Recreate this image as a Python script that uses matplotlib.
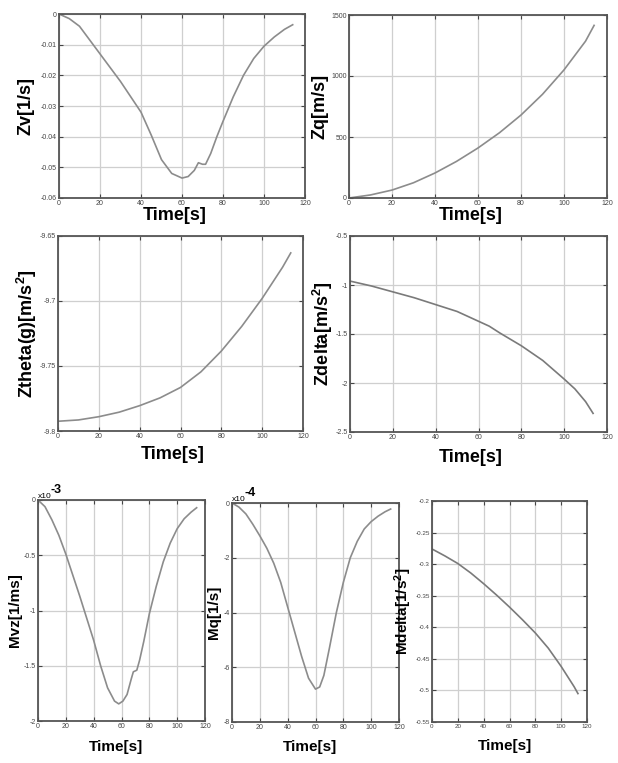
import math
import matplotlib
matplotlib.use('Agg')
import matplotlib.pyplot as plt
from matplotlib.ticker import FuncFormatter

# Schrift: Arial-artig und fett wie im MATLAB-Export
plt.rcParams['font.family'] = ['Liberation Sans', 'DejaVu Sans']
plt.rcParams['axes.unicode_minus'] = False
plt.rcParams['mathtext.fontset'] = 'custom'
plt.rcParams['mathtext.bf'] = 'Liberation Sans:bold'
plt.rcParams['mathtext.default'] = 'bf'

W, H = 618, 763

# Werte
zv_t = [0, 5, 10, 15, 20, 25, 30, 35, 40, 45, 50, 55, 60, 63, 66, 68, 70, 71.5, 74, 77, 80, 85, 90, 95, 100, 105, 110, 114]
zv = [0, -0.0015, -0.004, -0.0085, -0.013, -0.0175, -0.022, -0.027, -0.032, -0.0395, -0.0475, -0.052, -0.0535,
      -0.053, -0.051, -0.0485, -0.049, -0.049, -0.0455, -0.040, -0.035, -0.027, -0.020, -0.0145, -0.0105,
      -0.0075, -0.005, -0.0035]

zq_t = [0, 10, 20, 30, 40, 50, 60, 70, 80, 90, 100, 110, 114]
zq = [0, 25, 65, 125, 205, 300, 410, 535, 680, 850, 1050, 1285, 1415]

zth_t = [0, 10, 20, 30, 40, 50, 60, 70, 80, 90, 100, 110, 114]
zth = [-9.7925, -9.7915, -9.789, -9.7855, -9.7805, -9.7745, -9.7665, -9.7545, -9.7385, -9.7195, -9.698, -9.674, -9.663]

zd_t = [0, 10, 20, 30, 40, 50, 60, 65, 70, 80, 90, 100, 105, 110, 113.5]
zd = [-0.96, -1.01, -1.07, -1.13, -1.20, -1.27, -1.37, -1.42, -1.49, -1.62, -1.77, -1.96, -2.06, -2.19, -2.31]

mvz_t = [0, 5, 10, 15, 20, 25, 30, 35, 40, 45, 50, 55, 58, 61, 64, 67, 68.5, 71, 73, 76, 80, 85, 90, 95, 100,
         105, 110, 114]
mvz = [0, -0.06e-3, -0.18e-3, -0.32e-3, -0.49e-3, -0.68e-3, -0.87e-3, -1.07e-3, -1.27e-3, -1.50e-3, -1.70e-3,
       -1.82e-3, -1.845e-3, -1.82e-3, -1.76e-3, -1.62e-3, -1.555e-3, -1.54e-3, -1.45e-3, -1.28e-3, -1.03e-3,
       -0.78e-3, -0.56e-3, -0.39e-3, -0.26e-3, -0.17e-3, -0.11e-3, -0.07e-3]

mq_t = [0, 5, 10, 15, 20, 25, 30, 35, 40, 45, 50, 55, 60, 63, 66, 70, 75, 80, 85, 90, 95, 100, 105, 110, 114]
mq = [0, -0.15e-4, -0.40e-4, -0.78e-4, -1.2e-4, -1.65e-4, -2.2e-4, -2.9e-4, -3.8e-4, -4.7e-4, -5.6e-4, -6.4e-4,
      -6.8e-4, -6.72e-4, -6.3e-4, -5.3e-4, -4.0e-4, -2.9e-4, -2.0e-4, -1.4e-4, -0.95e-4, -0.68e-4, -0.48e-4,
      -0.32e-4, -0.22e-4]

md_t = [0, 10, 20, 30, 40, 50, 60, 70, 80, 90, 100, 110, 113]
md = [-0.276, -0.287, -0.299, -0.314, -0.331, -0.349, -0.368, -0.388, -0.409, -0.433, -0.462, -0.494, -0.505]

fig = plt.figure(figsize=(W / 100, H / 100), dpi=100)


def panel(box, t, y, ylim, yticks, ylabel, ydist, xdist, fs=13, tick_fs=5, scale=None, lc='#8c8c8c'):
    l, top, r, b = box
    ax = fig.add_axes([l / W, 1 - b / H, (r - l) / W, (b - top) / H])
    ax.plot(t, y, color=lc, lw=1.2)
    ax.set_xlim(0, 120)
    ax.set_xticks(range(0, 121, 20))
    ax.set_ylim(*ylim)
    ax.set_yticks(yticks)
    if scale:
        ax.yaxis.set_major_formatter(FuncFormatter(lambda v, p: '%g' % round(v / scale, 6)))
        ax.text(0, 1.0, 'x10', transform=ax.transAxes, fontsize=6, ha='left', va='bottom')
        ax.text(0.075, 1.02, '%d' % round(math.log10(scale)), transform=ax.transAxes,
                fontsize=9, fontweight='bold', ha='left', va='bottom')
    else:
        ax.yaxis.set_major_formatter(FuncFormatter(lambda v, p: '%g' % round(v, 6)))
    ax.grid(True, color='#cfcfcf', lw=0.9)
    ax.set_axisbelow(True)
    ax.tick_params(direction='in', length=3, width=0.8, labelsize=tick_fs, pad=1.5,
                   top=True, right=True, colors='#444444')
    for s in ax.spines.values():
        s.set_color('#555555')
        s.set_linewidth(1.3)
    ax.set_xlabel('Time[s]', fontsize=fs, fontweight='bold', va='center')
    ax.set_ylabel(ylabel, fontsize=fs, fontweight='bold', va='center')
    ax.xaxis.set_label_coords(0.47, -xdist / (b - top))
    ax.yaxis.set_label_coords(-ydist / (r - l), 0.5)
    return ax


panel((59, 14, 305, 198), zv_t, zv, (-0.06, 0), [-0.06, -0.05, -0.04, -0.03, -0.02, -0.01, 0],
      'Zv[1/s]', 33, 17)
panel((349, 15, 607, 198), zq_t, zq, (0, 1500), [0, 500, 1000, 1500], 'Zq[m/s]', 29, 17)
panel((58, 236, 303, 431), zth_t, zth, (-9.8, -9.65), [-9.8, -9.75, -9.7, -9.65],
      r'Ztheta(g)[m/s$^{2}$]', 31, 24)
panel((350, 236, 607, 432), zd_t, zd, (-2.5, -0.5), [-2.5, -2, -1.5, -1, -0.5], r'Zdelta[m/s$^{2}$]', 27, 25,
      lc='#7a7a7a')
panel((38, 500, 205, 721), mvz_t, mvz, (-2e-3, 0), [-2e-3, -1.5e-3, -1e-3, -0.5e-3, 0],
      'Mvz[1/ms]', 23, 26, fs=11, scale=1e-3)
panel((232, 503, 399, 722), mq_t, mq, (-8e-4, 0), [-8e-4, -6e-4, -4e-4, -2e-4, 0],
      'Mq[1/s]', 18, 25, fs=11, scale=1e-4)
panel((432, 501, 587, 722), md_t, md, (-0.55, -0.2), [-0.55, -0.5, -0.45, -0.4, -0.35, -0.3, -0.25, -0.2],
      r'Mdelta[1/s$^{2}$]', 29, 24, fs=11, tick_fs=4.5, lc='#7a7a7a')

fig.savefig('out.png', dpi=100, facecolor='white')
